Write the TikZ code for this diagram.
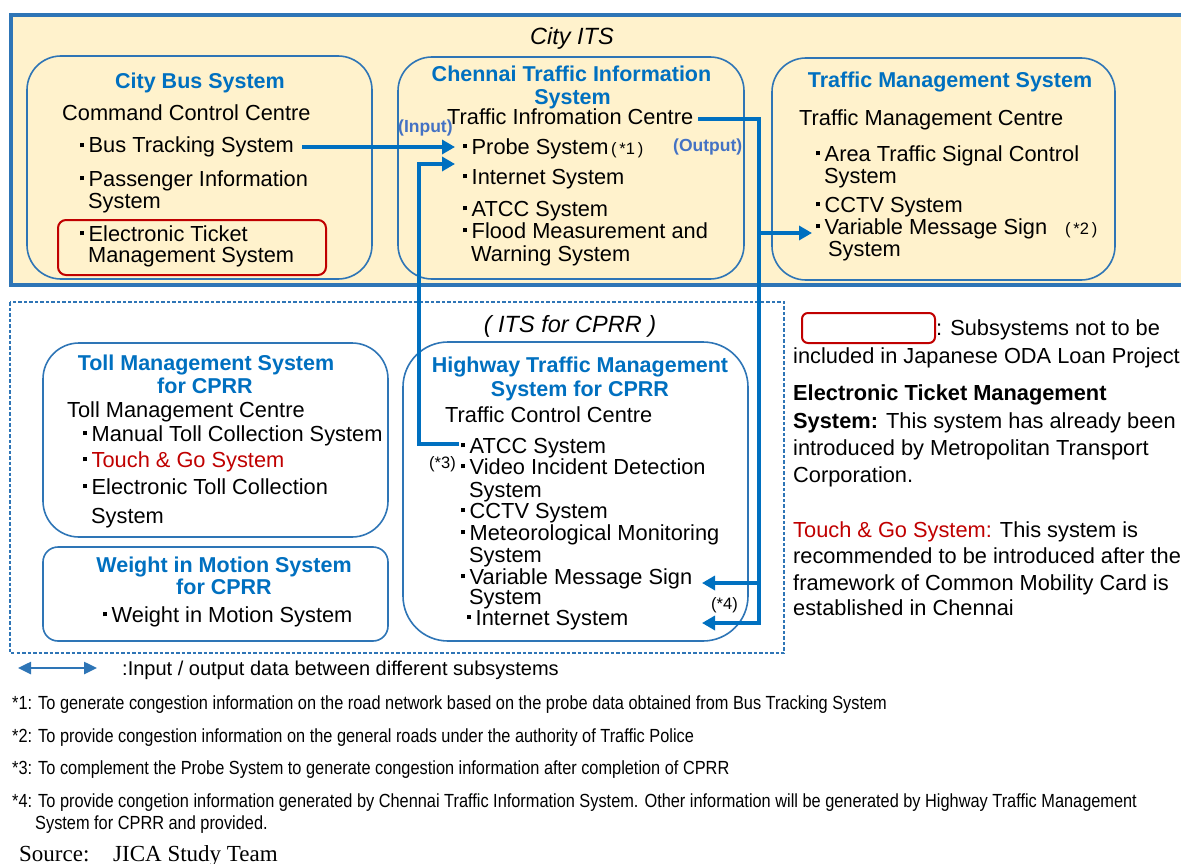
\documentclass[tikz,border=0pt]{standalone}
\usepackage{fontspec}
\setmainfont{Liberation Sans}
\newfontfamily\narrowfont[FakeStretch=0.86]{Liberation Sans}
\newfontfamily\srcfont{Liberation Serif}
\usetikzlibrary{arrows.meta}
\definecolor{itsfill}{HTML}{FFF2CC}
\definecolor{frameblue}{HTML}{2E75B6}
\definecolor{titleblue}{HTML}{0070C0}
\definecolor{linkblue}{HTML}{0070C0}
\definecolor{iolabel}{HTML}{4472C4}
\definecolor{darkred}{HTML}{C00000}
\newcommand\bul{\rule[0.26em]{0.19em}{0.19em}\hspace{0.2em}}
\begin{document}
\begin{tikzpicture}[x=1pt,y=-1pt,
  tx/.style={anchor=base west,inner sep=0pt,font=\fontsize{21.8}{25}\selectfont},
  tt/.style={anchor=base,inner sep=0pt,font=\fontsize{21.5}{25}\selectfont\bfseries,text=titleblue},
  iol/.style={anchor=base west,inner sep=0pt,font=\fontsize{17.5}{20}\selectfont\bfseries,text=iolabel},
  smallnote/.style={anchor=base west,inner sep=0pt,font=\fontsize{16.5}{19}\selectfont},
  itl/.style={anchor=base,inner sep=0pt,font=\fontsize{23.5}{28}\selectfont\itshape},
  fnote/.style={anchor=base west,inner sep=0pt,font=\narrowfont\fontsize{19}{22}\selectfont},
  sysbox/.style={draw=frameblue,line width=1.6pt,rounded corners=34pt,inner sep=0pt},
  redbox/.style={draw=darkred,line width=2pt,rounded corners=8pt,inner sep=0pt},
  conn/.style={draw=linkblue,line width=3.4pt,-{Triangle[length=13pt,width=14pt]}},
  legarrow/.style={draw=frameblue,line width=2.5pt,{Triangle[length=13pt,width=12pt]}-{Triangle[length=13pt,width=12pt]}}
]
\useasboundingbox (0,0) rectangle (1181,864);

% City ITS frame
\fill[itsfill] (11,15) rectangle (1181,285);
\draw[frameblue,line width=3.5pt] (1181,15) -- (11,15) -- (11,285) -- (1181,285);
\node[itl] (cityits) at (572,45) {City ITS};

% ITS for CPRR dashed frame
\draw[frameblue,line width=1.2pt,dash pattern=on 3.5pt off 2pt] (10,302) rectangle (784,653);
\node[itl] (cprrlbl) at (570,332) {( ITS for CPRR )};

% subsystem boxes
\node[sysbox,minimum width=345pt,minimum height=223pt] (cbsbox) at (199.5,167.5) {};
\node[sysbox,minimum width=346pt,minimum height=222pt] (ctisbox) at (571,168) {};
\node[sysbox,minimum width=343pt,minimum height=222pt] (tmsbox) at (943.5,169) {};
\node[sysbox,fill=white,minimum width=345pt,minimum height=194pt,rounded corners=36pt] (tollbox) at (215.5,440) {};
\node[sysbox,fill=white,minimum width=345pt,minimum height=94pt,rounded corners=15pt] (wimbox) at (215.5,594) {};
\node[sysbox,fill=white,minimum width=345pt,minimum height=299pt,rounded corners=45pt] (hwbox) at (575.5,491.5) {};
\node[redbox,minimum width=268pt,minimum height=55pt] (etmbox) at (192,247.5) {};
\node[redbox,minimum width=133pt,minimum height=30pt,rounded corners=6pt] (legbox) at (868.5,328) {};

% City Bus System
\node[tt] (cbst) at (200,89) {City Bus System};
\node[tx] (ccc) at (62,121) {Command Control Centre};
\node[tx] (bts) at (80,153) {\bul Bus Tracking System};
\node[tx] (pis1) at (80,186) {\bul Passenger Information};
\node[tx] (pis2) at (88,208) {System};
\node[tx] (etm1) at (80,241) {\bul Electronic Ticket};
\node[tx] (etm2) at (88,262) {Management System};

% Chennai Traffic Information System
\node[tt] (ctist1) at (571.5,82) {Chennai Traffic Information};
\node[tt] (ctist2) at (572.5,105) {System};
\node[tx] (tic) at (447,125) {Traffic Infromation Centre};
\node[iol] (inlbl) at (398,133) {(Input)};
\node[tx] (probe) at (463,154) {\bul Probe System};
\node[smallnote] (fn1) at (611,154) {(\,*1\,)};
\node[iol] (outlbl) at (673,152) {(Output)};
\node[tx] (cint) at (463,184) {\bul Internet System};
\node[tx] (catcc) at (463,216) {\bul ATCC System};
\node[tx] (flood1) at (463,238) {\bul Flood Measurement and};
\node[tx] (flood2) at (471,261) {Warning System};

% Traffic Management System
\node[tt] (tmst) at (950,88) {Traffic Management System};
\node[tx] (tmc) at (799,126) {Traffic Management Centre};
\node[tx] (atsc1) at (816,161) {\bul Area Traffic Signal Control};
\node[tx] (atsc2) at (824,183) {System};
\node[tx] (tcctv) at (816,212) {\bul CCTV System};
\node[tx] (tvms1) at (816,234) {\bul Variable Message Sign};
\node[smallnote] (fn2) at (1065,234) {(\,*2\,)};
\node[tx] (tvms2) at (828,256) {System};

% Toll Management System
\node[tt] (tollt1) at (206,370) {Toll Management System};
\node[tt] (tollt2) at (205,393) {for CPRR};
\node[tx] (tolc) at (67,417) {Toll Management Centre};
\node[tx] (mtc) at (83,441) {\bul Manual Toll Collection System};
\node[tx] (tgo) at (83,467) {\bul \textcolor{darkred}{Touch \& Go System}};
\node[tx] (etc1) at (83,494) {\bul Electronic Toll Collection};
\node[tx] (etc2) at (91,523) {System};

% Weight in Motion System
\node[tt] (wimt1) at (224,572) {Weight in Motion System};
\node[tt] (wimt2) at (224,594) {for CPRR};
\node[tx] (wim) at (103,622) {\bul Weight in Motion System};

% Highway Traffic Management System
\node[tt] (hwt1) at (580,372) {Highway Traffic Management};
\node[tt] (hwt2) at (580,396) {System for CPRR};
\node[tx] (tcc) at (445,422) {Traffic Control Centre};
\node[tx] (hatcc) at (461,453) {\bul ATCC System};
\node[smallnote] (fn3) at (429,468) {(*3)};
\node[tx] (vid1) at (461,474) {\bul Video Incident Detection};
\node[tx] (vid2) at (469,497) {System};
\node[tx] (hcctv) at (461,518) {\bul CCTV System};
\node[tx] (met1) at (461,540) {\bul Meteorological Monitoring};
\node[tx] (met2) at (469,562) {System};
\node[tx] (hvms1) at (461,584) {\bul Variable Message Sign};
\node[tx] (hvms2) at (469,604) {System};
\node[smallnote] (fn4) at (711,609) {(*4)};
\node[tx] (hint) at (467,625) {\bul Internet System};

% connectors
\coordinate (trunkbot) at (759,623);
\coordinate (tj1) at (759,233);
\coordinate (tj2) at (759,583);
\coordinate (hvmsarr) at (702,583);
\coordinate (hintarr) at (702,623);
\draw[conn] ([xshift=8pt,yshift=6pt]bts.base east) -- ([xshift=-8pt,yshift=6pt]bts.base east -| probe.base west);
\draw[conn] ([xshift=-2pt,yshift=9pt]hatcc.base west) -| ([xshift=-44pt,yshift=-10pt]probe.base west) -- ([xshift=-8pt,yshift=-10pt]probe.base west);
\draw[conn] ([xshift=5pt,yshift=6pt]tic.base east) -| (trunkbot) -- (hintarr);
\draw[conn] (tj1) -- ([xshift=-4pt,yshift=1pt]tvms1.base west);
\draw[conn] (tj2) -- (hvmsarr);

% legend (right)
\node[tx] (leg1) at (936,335) {: Subsystems not to be};
\node[tx] (leg2) at (793,363) {included in Japanese ODA Loan Project};
\node[tx] (etmn1) at (793,400) {\textbf{Electronic Ticket Management}};
\node[tx] (etmn2) at (793,428) {\textbf{System:} This system has already been};
\node[tx] (etmn3) at (793,455) {introduced by Metropolitan Transport};
\node[tx] (etmn4) at (793,482) {Corporation.};
\node[tx] (tgn1) at (793,537) {\textcolor{darkred}{Touch \& Go System:} This system is};
\node[tx] (tgn2) at (793,563) {recommended to be introduced after the};
\node[tx] (tgn3) at (793,590) {framework of Common Mobility Card is};
\node[tx] (tgn4) at (793,615) {established in Chennai};

% legend arrow
\coordinate (la1) at (18,668);
\coordinate (la2) at (97,668);
\draw[legarrow] (la1) -- (la2);
\node[tx,font=\fontsize{20}{24}\selectfont] (legtxt) at (122,675) {:Input / output data between different subsystems};

% footnotes
\node[fnote] (n1) at (12,709) {*1: To generate congestion information on the road network based on the probe data obtained from Bus Tracking System};
\node[fnote] (n2) at (12,742) {*2: To provide congestion information on the general roads under the authority of Traffic Police};
\node[fnote] (n3) at (12,774) {*3: To complement the Probe System to generate congestion information after completion of CPRR};
\node[fnote] (n4) at (12,807) {*4: To provide congetion information generated by Chennai Traffic Information System. Other information will be generated by Highway Traffic Management};
\node[fnote] (n5) at (35,829) {System for CPRR and provided.};
\node[anchor=base west,inner sep=0pt,font=\srcfont\fontsize{23}{26}\selectfont] (src1) at (19,861) {Source:};
\node[anchor=base west,inner sep=0pt,font=\srcfont\fontsize{23}{26}\selectfont] (src2) at (113,861) {JICA Study Team};
\end{tikzpicture}
\end{document}
